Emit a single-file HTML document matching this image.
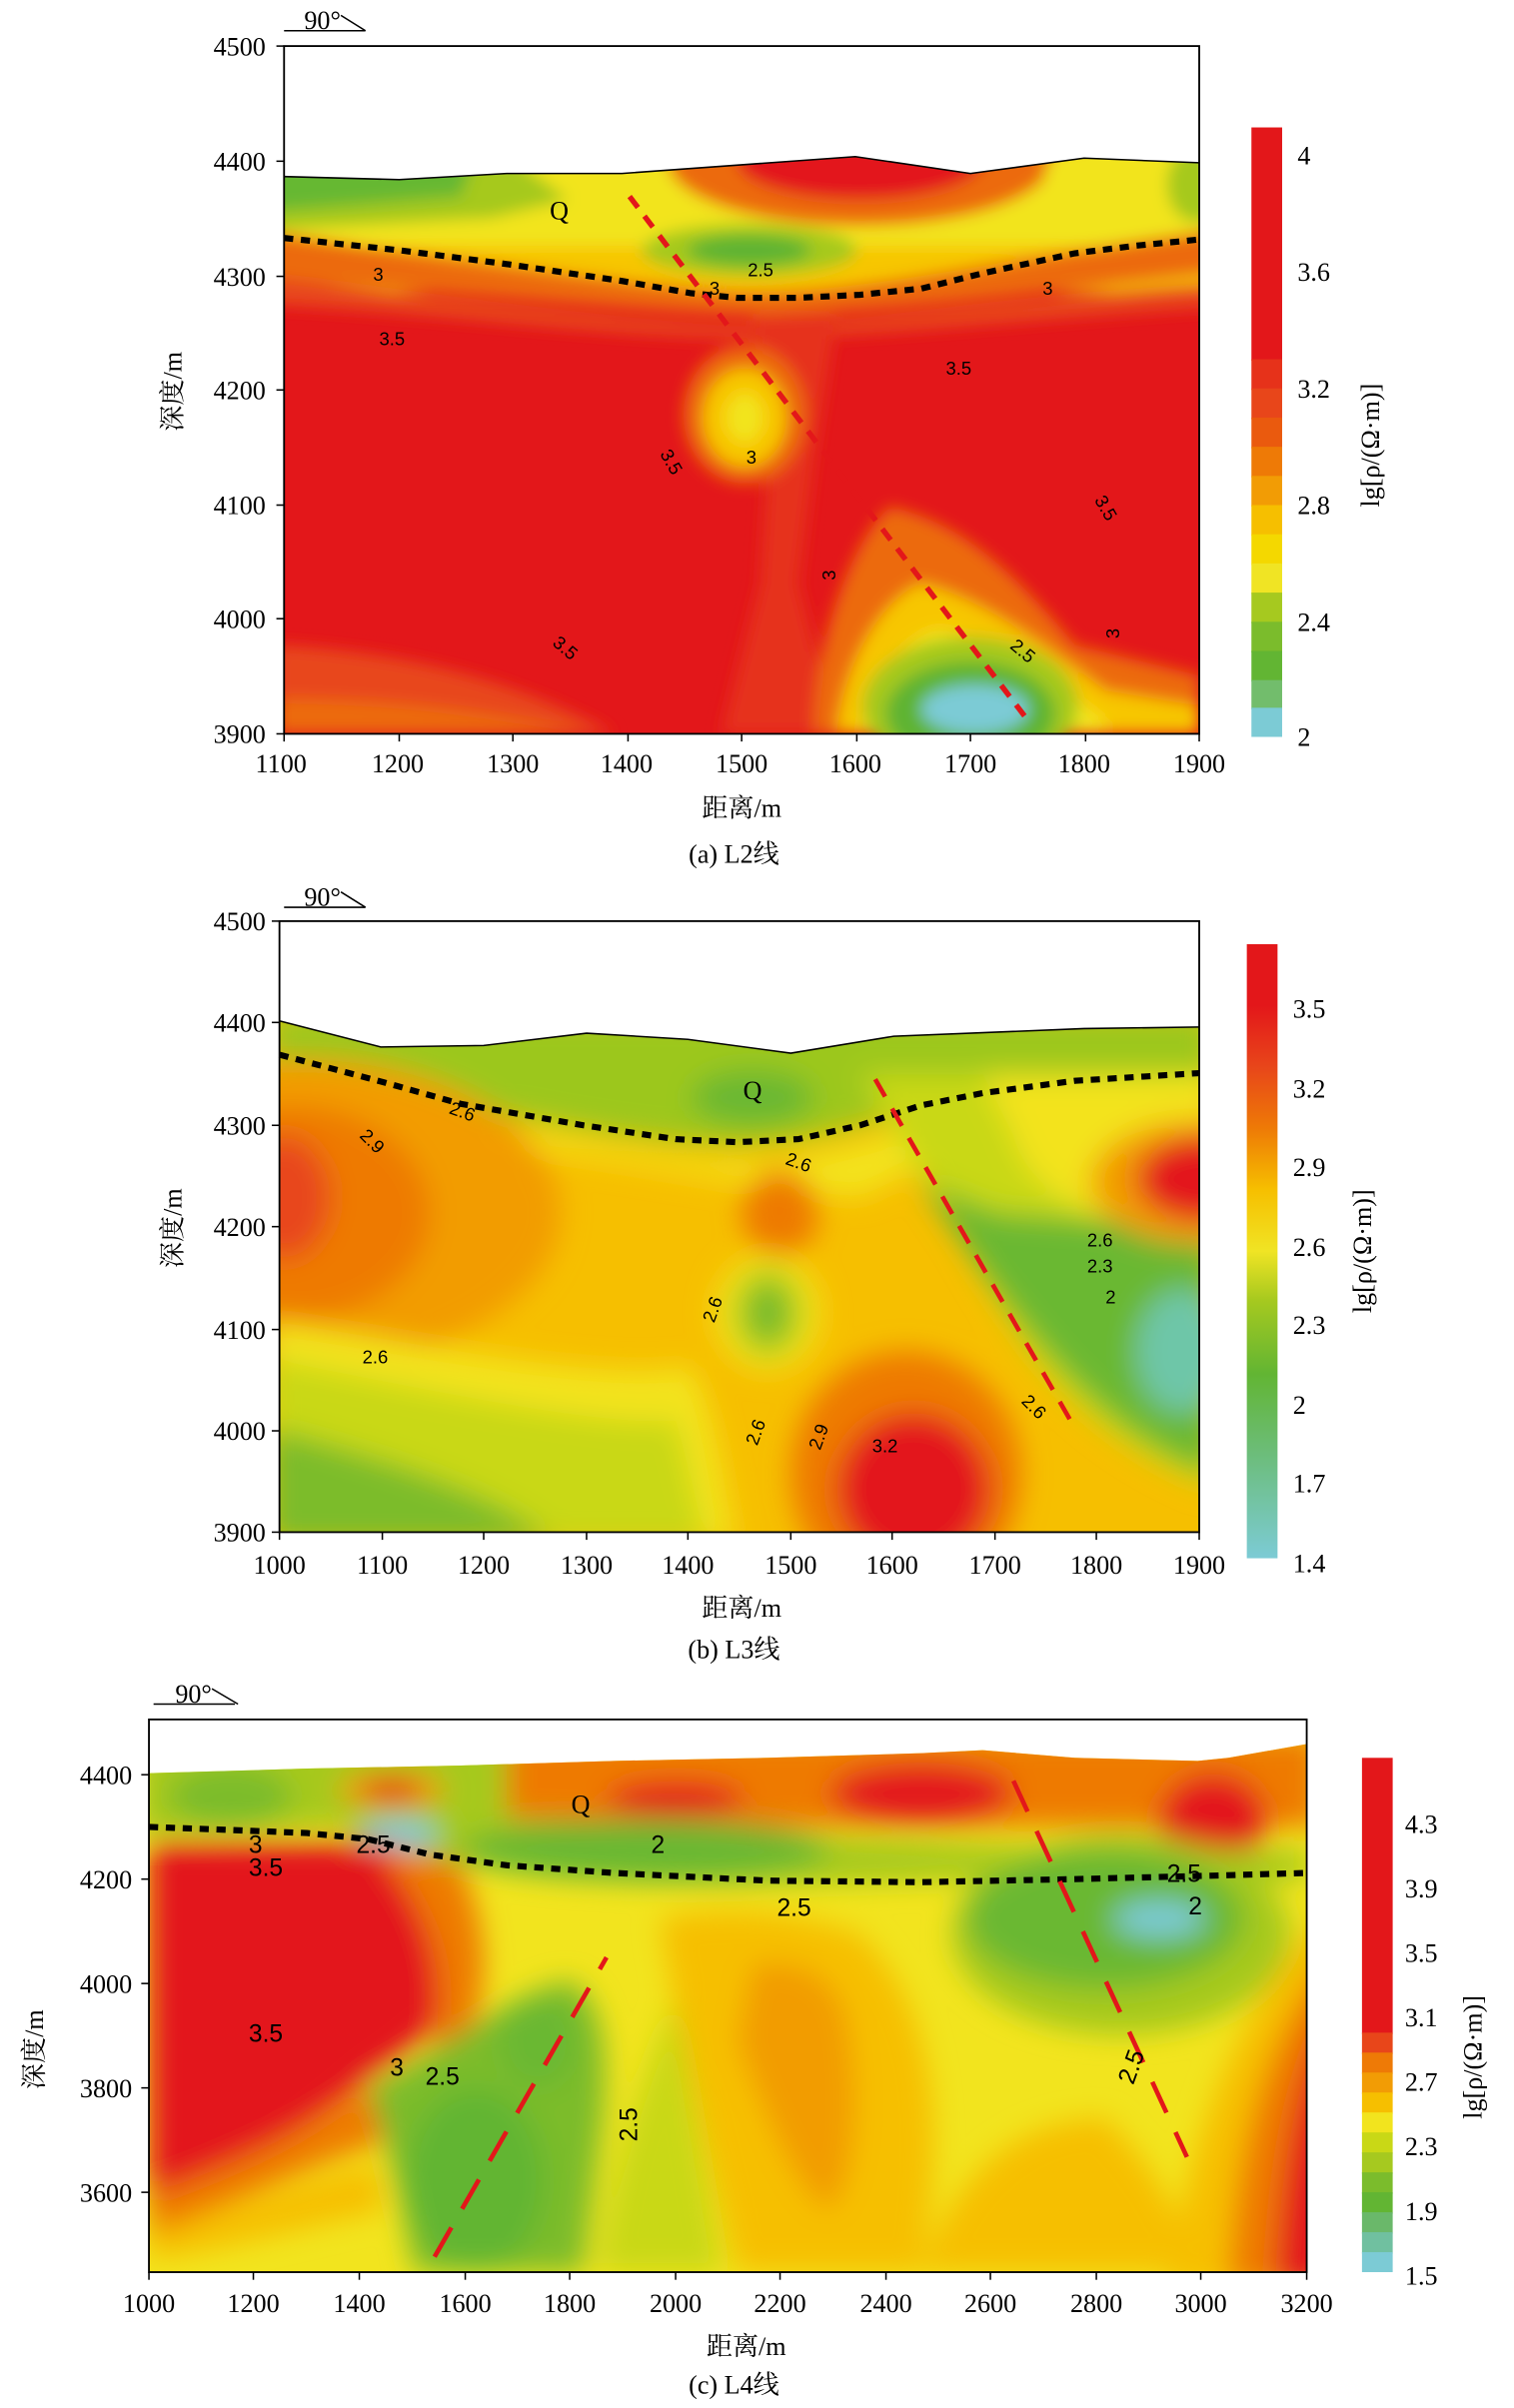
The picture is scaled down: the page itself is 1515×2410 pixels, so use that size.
<!DOCTYPE html>
<html><head><meta charset="utf-8"><style>
html,body{margin:0;padding:0;background:#fff;}
svg{display:block}
.t{font-family:"Liberation Serif","Noto Serif CJK SC",serif;font-size:17px;fill:#000}
.c{font-family:"Liberation Sans",sans-serif;font-size:12px;fill:#000}
</style></head><body>
<svg width="1515" height="2410" viewBox="0 0 986 1568.5" preserveAspectRatio="none" xmlns="http://www.w3.org/2000/svg">
<defs>
<filter id="b" x="-20%" y="-20%" width="140%" height="140%"><feGaussianBlur stdDeviation="5"/></filter>
<filter id="b2" x="-20%" y="-20%" width="140%" height="140%"><feGaussianBlur stdDeviation="9"/></filter>
<clipPath id="ca"><polygon points="185,115 260,117 330,113 405,113 557,102 632,113 706,103 781,106 781,478 185,478"/></clipPath>
<clipPath id="cb"><polygon points="182,665 248,682 315,681 382,673 448,677 515,686 582,675 706,670 781,669 781,998 182,998"/></clipPath>
<clipPath id="cc"><polygon points="97,1155 200,1152 300,1150 400,1147 500,1145 600,1142 640,1140 700,1145 780,1147 800,1145 851,1136 851,1480 97,1480"/></clipPath>
</defs>

<!-- ===== Chart a ===== -->
<g clip-path="url(#ca)">
<rect x="180" y="95" width="610" height="390" fill="#e3171a"/>
<g filter="url(#b)">
<rect x="170" y="95" width="620" height="95" fill="#f7c600"/>
<rect x="170" y="100" width="620" height="60" fill="#f2e41e"/>
<path d="M170,100 L330,100 L370,130 L320,142 L170,150Z" fill="#a6c91f"/>
<path d="M170,100 L310,100 L300,128 L170,138Z" fill="#66b833"/>
<ellipse cx="560" cy="105" rx="125" ry="42" fill="#ec6a08"/>
<ellipse cx="560" cy="105" rx="80" ry="25" fill="#e3171a"/>
<ellipse cx="730" cy="115" rx="50" ry="25" fill="#f2e41e"/>
<ellipse cx="780" cy="120" rx="20" ry="25" fill="#a6c91f"/>
<ellipse cx="488" cy="163" rx="70" ry="17" fill="#a6c91f"/>
<ellipse cx="488" cy="163" rx="40" ry="10" fill="#5fb433"/>
<path d="M170,150 C300,170 420,185 480,190 C560,192 640,170 790,150 L790,178 C640,195 560,205 480,205 C380,200 300,190 170,182Z" fill="#ec6a08"/>
<path d="M170,180 C300,195 420,210 480,212 C560,212 640,195 790,185 L790,200 C640,210 560,220 480,220 C380,218 300,205 170,198Z" fill="#e8461a"/>
<path d="M490,205 L545,205 L530,300 L520,380 L545,478 L470,478 L495,380 L500,300Z" fill="#e6321a"/>
<ellipse cx="485" cy="270" rx="40" ry="45" fill="#ec6a08"/>
<ellipse cx="485" cy="272" rx="27" ry="32" fill="#f7c600"/>
<ellipse cx="485" cy="272" rx="12" ry="16" fill="#f2e41e"/>
<path d="M530,478 C530,420 555,350 580,330 C620,340 650,360 700,420 L781,440 L781,478Z" fill="#ec6a08"/>
<path d="M545,478 C550,430 575,390 600,380 C640,390 680,420 720,450 L781,460 L781,478Z" fill="#f7c600"/>
<path d="M560,478 C565,445 590,415 610,410 C650,415 680,440 720,470 L720,478Z" fill="#f2e41e"/>
<ellipse cx="632" cy="460" rx="70" ry="45" fill="#a6c91f"/>
<ellipse cx="632" cy="465" rx="55" ry="34" fill="#5fb433"/>
<ellipse cx="635" cy="462" rx="35" ry="16" fill="#7ccbd5"/>
<path d="M180,420 C260,425 330,440 400,478 L180,478Z" fill="#e8461a"/>
<path d="M180,455 C260,455 330,465 380,478 L180,478Z" fill="#ec6a08"/>
</g>
</g>
<polyline points="185,115 260,117 330,113 405,113 557,102 632,113 706,103 781,106" fill="none" stroke="#000" stroke-width="1"/>
<rect x="185" y="30" width="596" height="448" fill="none" stroke="#000" stroke-width="1.2"/>
<polyline points="185,155 260,163 330,172 405,183 450,191 480,194 520,194 560,192 600,188 640,178 700,165 740,160 781,156" fill="none" stroke="#000" stroke-width="4" stroke-dasharray="6,5"/>
<line x1="410" y1="128" x2="670" y2="470" stroke="#e3171a" stroke-width="3.5" stroke-dasharray="9,7"/>
<g class="c">
<text x="243" y="183">3</text><text x="247" y="225">3.5</text><text x="487" y="180">2.5</text><text x="462" y="192">3</text>
<text x="679" y="192">3</text><text x="616" y="244">3.5</text><text x="486" y="302">3</text>
<text x="427" y="300" transform="rotate(60 432 300)">3.5</text><text x="710" y="330" transform="rotate(60 715 330)">3.5</text>
<text x="536" y="378" transform="rotate(-90 540 374)">3</text><text x="720" y="415" transform="rotate(-90 725 411)">3</text>
<text x="358" y="423" transform="rotate(40 363 423)">3.5</text><text x="656" y="425" transform="rotate(40 661 425)">2.5</text>
</g>
<text x="358" y="143" class="t">Q</text>
<g stroke="#000" stroke-width="1">
<line x1="180" y1="30" x2="185" y2="30"/><line x1="180" y1="105" x2="185" y2="105"/><line x1="180" y1="180" x2="185" y2="180"/><line x1="180" y1="254" x2="185" y2="254"/><line x1="180" y1="329" x2="185" y2="329"/><line x1="180" y1="403" x2="185" y2="403"/><line x1="180" y1="478" x2="185" y2="478"/>
<line x1="185" y1="478" x2="185" y2="483"/><line x1="260" y1="478" x2="260" y2="483"/><line x1="334" y1="478" x2="334" y2="483"/><line x1="409" y1="478" x2="409" y2="483"/><line x1="483" y1="478" x2="483" y2="483"/><line x1="558" y1="478" x2="558" y2="483"/><line x1="632" y1="478" x2="632" y2="483"/><line x1="707" y1="478" x2="707" y2="483"/><line x1="781" y1="478" x2="781" y2="483"/>
<line x1="185" y1="20" x2="238" y2="20"/><line x1="222" y1="10" x2="238" y2="20"/>
</g>
<g class="t" text-anchor="end">
<text x="173" y="36">4500</text><text x="173" y="111">4400</text><text x="173" y="186">4300</text><text x="173" y="260">4200</text><text x="173" y="335">4100</text><text x="173" y="409">4000</text><text x="173" y="484">3900</text>
</g>
<g class="t" text-anchor="middle">
<text x="183" y="503">1100</text><text x="259" y="503">1200</text><text x="334" y="503">1300</text><text x="408" y="503">1400</text><text x="483" y="503">1500</text><text x="557" y="503">1600</text><text x="632" y="503">1700</text><text x="706" y="503">1800</text><text x="781" y="503">1900</text>
<text x="483" y="532">距离/m</text><text x="478" y="562">(a) L2线</text>
<text x="210" y="19">90°</text>
</g>
<text class="t" text-anchor="middle" transform="translate(118,255) rotate(-90)">深度/m</text>
<g>
<rect x="815" y="83" width="20" height="152" fill="#e3171a"/>
<rect x="815" y="234" width="20" height="20" fill="#e6321a"/>
<rect x="815" y="253" width="20" height="20" fill="#e8461a"/>
<rect x="815" y="272" width="20" height="20" fill="#ea5a0e"/>
<rect x="815" y="291" width="20" height="20" fill="#ee7a06"/>
<rect x="815" y="310" width="20" height="20" fill="#f29c05"/>
<rect x="815" y="329" width="20" height="20" fill="#f6bf00"/>
<rect x="815" y="348" width="20" height="20" fill="#f4d800"/>
<rect x="815" y="367" width="20" height="20" fill="#f0e424"/>
<rect x="815" y="386" width="20" height="20" fill="#a6c91f"/>
<rect x="815" y="405" width="20" height="20" fill="#7bbc2c"/>
<rect x="815" y="424" width="20" height="20" fill="#62b533"/>
<rect x="815" y="443" width="20" height="19" fill="#72bd6c"/>
<rect x="815" y="461" width="20" height="19" fill="#7ccbd5"/>
</g>
<g class="t"><text x="845" y="107">4</text><text x="845" y="183">3.6</text><text x="845" y="259">3.2</text><text x="845" y="335">2.8</text><text x="845" y="411">2.4</text><text x="845" y="486">2</text></g>
<text class="t" text-anchor="middle" transform="translate(898,290) rotate(-90)">lg[ρ/(Ω·m)]</text>

<!-- ===== Chart b ===== -->
<g clip-path="url(#cb)">
<rect x="175" y="660" width="615" height="345" fill="#f6bf00"/>
<g filter="url(#b2)">
<path d="M175,660 L790,660 L790,700 C700,700 640,705 600,720 C560,735 520,745 480,745 C420,745 330,730 175,690Z" fill="#9cc71e"/>
<ellipse cx="490" cy="715" rx="40" ry="18" fill="#6ab830"/>
<path d="M175,690 C330,735 420,755 480,757 C530,757 580,740 620,725 C700,705 790,710 790,710 L790,735 C700,730 640,745 600,760 L560,780 L480,770 L175,720Z" fill="#f3e31a"/>
<ellipse cx="195" cy="790" rx="170" ry="100" fill="#f29c05"/>
<ellipse cx="190" cy="790" rx="90" ry="70" fill="#ee7a06"/>
<ellipse cx="185" cy="780" rx="30" ry="40" fill="#e8461a"/>
<path d="M175,860 C300,880 400,900 450,890 C470,930 470,970 480,1005 L175,1005Z" fill="#f3e31a"/>
<path d="M175,885 C300,910 400,930 440,925 C450,960 455,990 460,1005 L175,1005Z" fill="#c9d816"/>
<path d="M175,930 C250,950 330,975 360,1005 L175,1005Z" fill="#7bbc2c"/>
<ellipse cx="508" cy="790" rx="25" ry="28" fill="#ee7a06"/>
<ellipse cx="500" cy="855" rx="35" ry="38" fill="#f3e31a"/>
<ellipse cx="500" cy="855" rx="22" ry="28" fill="#a6c91f"/>
<ellipse cx="500" cy="855" rx="10" ry="15" fill="#6ab830"/>
<ellipse cx="590" cy="960" rx="75" ry="80" fill="#ee7a06"/>
<ellipse cx="595" cy="970" rx="50" ry="50" fill="#e3171a"/>
<path d="M560,700 C600,760 630,820 670,880 C700,920 740,950 790,970 L790,700 C720,700 640,700 560,700Z" fill="#c9d816"/>
<path d="M600,770 C640,830 670,870 700,900 C730,930 760,950 790,960 L790,800 L650,790Z" fill="#6ab830"/>
<ellipse cx="770" cy="880" rx="30" ry="40" fill="#6ec6a8"/>
<path d="M640,700 L790,700 L790,810 C720,800 670,780 660,740Z" fill="#f3e31a"/>
<ellipse cx="780" cy="770" rx="70" ry="40" fill="#f29c05"/>
<ellipse cx="785" cy="768" rx="45" ry="28" fill="#e3171a"/>
</g>
</g>
<polyline points="182,665 248,682 315,681 382,673 448,677 515,686 582,675 706,670 781,669" fill="none" stroke="#000" stroke-width="1"/>
<rect x="182" y="600" width="599" height="398" fill="none" stroke="#000" stroke-width="1.2"/>
<polyline points="182,687 250,705 300,719 380,733 440,742 480,744 520,742 560,733 600,720 640,712 700,704 781,699" fill="none" stroke="#000" stroke-width="4" stroke-dasharray="6,5"/>
<line x1="570" y1="703" x2="697" y2="925" stroke="#e3171a" stroke-width="3" stroke-dasharray="13,9"/>
<g class="c">
<text x="293" y="727" transform="rotate(20 298 723)">2.6</text><text x="235" y="745" transform="rotate(45 240 741)">2.9</text>
<text x="512" y="760" transform="rotate(20 517 756)">2.6</text><text x="236" y="888">2.6</text>
<text x="458" y="860" transform="rotate(-70 463 856)">2.6</text>
<text x="486" y="940" transform="rotate(-70 491 936)">2.6</text><text x="527" y="943" transform="rotate(-70 532 939)">2.9</text>
<text x="568" y="946">3.2</text><text x="666" y="918" transform="rotate(45 671 914)">2.6</text>
<text x="708" y="812">2.6</text><text x="708" y="829">2.3</text><text x="720" y="849">2</text>
</g>
<text x="484" y="716" class="t">Q</text>
<g stroke="#000" stroke-width="1">
<line x1="177" y1="600" x2="182" y2="600"/><line x1="177" y1="666" x2="182" y2="666"/><line x1="177" y1="733" x2="182" y2="733"/><line x1="177" y1="799" x2="182" y2="799"/><line x1="177" y1="866" x2="182" y2="866"/><line x1="177" y1="932" x2="182" y2="932"/><line x1="177" y1="998" x2="182" y2="998"/>
<line x1="182" y1="998" x2="182" y2="1003"/><line x1="249" y1="998" x2="249" y2="1003"/><line x1="315" y1="998" x2="315" y2="1003"/><line x1="382" y1="998" x2="382" y2="1003"/><line x1="448" y1="998" x2="448" y2="1003"/><line x1="515" y1="998" x2="515" y2="1003"/><line x1="581" y1="998" x2="581" y2="1003"/><line x1="648" y1="998" x2="648" y2="1003"/><line x1="714" y1="998" x2="714" y2="1003"/><line x1="781" y1="998" x2="781" y2="1003"/>
<line x1="185" y1="591" x2="238" y2="591"/><line x1="222" y1="581" x2="238" y2="591"/>
</g>
<g class="t" text-anchor="end">
<text x="173" y="606">4500</text><text x="173" y="672">4400</text><text x="173" y="739">4300</text><text x="173" y="805">4200</text><text x="173" y="872">4100</text><text x="173" y="938">4000</text><text x="173" y="1004">3900</text>
</g>
<g class="t" text-anchor="middle">
<text x="182" y="1025">1000</text><text x="249" y="1025">1100</text><text x="315" y="1025">1200</text><text x="382" y="1025">1300</text><text x="448" y="1025">1400</text><text x="515" y="1025">1500</text><text x="581" y="1025">1600</text><text x="648" y="1025">1700</text><text x="714" y="1025">1800</text><text x="781" y="1025">1900</text>
<text x="483" y="1053">距离/m</text><text x="478" y="1080">(b) L3线</text>
<text x="210" y="590">90°</text>
</g>
<text class="t" text-anchor="middle" transform="translate(118,800) rotate(-90)">深度/m</text>
<defs><linearGradient id="gb" x1="0" y1="1" x2="0" y2="0">
<stop offset="0" stop-color="#7ccbd5"/><stop offset="0.17" stop-color="#6cbd7a"/><stop offset="0.3" stop-color="#62b533"/><stop offset="0.42" stop-color="#a6c91f"/><stop offset="0.5" stop-color="#f0e424"/><stop offset="0.6" stop-color="#f6bf00"/><stop offset="0.7" stop-color="#ee7a06"/><stop offset="0.8" stop-color="#e8461a"/><stop offset="0.9" stop-color="#e3171a"/><stop offset="1" stop-color="#e3171a"/></linearGradient></defs>
<rect x="812" y="615" width="20" height="400" fill="url(#gb)"/>
<g class="t"><text x="842" y="663">3.5</text><text x="842" y="715">3.2</text><text x="842" y="766">2.9</text><text x="842" y="818">2.6</text><text x="842" y="869">2.3</text><text x="842" y="921">2</text><text x="842" y="972">1.7</text><text x="842" y="1024">1.4</text></g>
<text class="t" text-anchor="middle" transform="translate(893,815) rotate(-90)">lg[ρ/(Ω·m)]</text>

<!-- ===== Chart c ===== -->
<g clip-path="url(#cc)">
<rect x="90" y="1130" width="770" height="360" fill="#f2e41e"/>
<g filter="url(#b2)">
<rect x="90" y="1130" width="770" height="60" fill="#ee7a06"/>
<path d="M90,1130 L330,1130 L330,1185 L90,1195Z" fill="#a6c91f"/>
<ellipse cx="150" cy="1170" rx="40" ry="20" fill="#7bbc2c"/>
<ellipse cx="255" cy="1166" rx="35" ry="12" fill="#f29c05"/>
<ellipse cx="255" cy="1166" rx="20" ry="7" fill="#e3171a"/>
<ellipse cx="440" cy="1172" rx="45" ry="12" fill="#e3171a"/>
<ellipse cx="600" cy="1168" rx="60" ry="20" fill="#e3171a"/>
<ellipse cx="790" cy="1185" rx="35" ry="30" fill="#e3171a"/>
<path d="M230,1190 C300,1180 400,1185 500,1195 C600,1200 700,1205 851,1205 L851,1225 C700,1222 600,1225 500,1228 C400,1230 300,1215 230,1205Z" fill="#a6c91f"/>
<ellipse cx="420" cy="1205" rx="120" ry="20" fill="#6ab830"/>
<ellipse cx="260" cy="1195" rx="25" ry="10" fill="#7ccbd5"/>
<path d="M97,1200 L250,1200 C280,1240 300,1280 300,1300 C280,1330 260,1340 240,1355 C210,1380 180,1400 97,1430Z" fill="#e3171a"/>
<path d="M97,1430 C180,1400 210,1380 240,1360 L250,1395 C200,1410 150,1440 97,1455Z" fill="#ee7a06"/>
<path d="M97,1455 C150,1440 200,1420 245,1410 L250,1440 C200,1450 150,1465 97,1472Z" fill="#f6bf00"/>
<path d="M250,1200 L300,1215 C320,1260 320,1300 300,1340 L280,1345 C290,1300 290,1260 250,1210Z" fill="#ee7a06"/>
<path d="M240,1360 C280,1340 330,1300 370,1290 C390,1300 400,1330 390,1400 L380,1480 L270,1480 C260,1430 250,1390 240,1360Z" fill="#7bbc2c"/>
<ellipse cx="310" cy="1420" rx="45" ry="60" fill="#62b533"/>
<ellipse cx="350" cy="1330" rx="25" ry="30" fill="#6ab830"/>
<path d="M390,1480 C400,1400 420,1350 440,1300 L470,1480Z" fill="#c9d816"/>
<path d="M430,1250 C470,1240 520,1245 560,1260 C600,1300 620,1360 600,1480 L480,1480 C460,1400 440,1320 430,1250Z" fill="#f6bf00"/>
<path d="M490,1280 C520,1275 540,1285 550,1310 C560,1350 560,1420 540,1440 C520,1430 500,1380 480,1330Z" fill="#f29c05"/>
<ellipse cx="730" cy="1260" rx="110" ry="65" fill="#a6c91f"/>
<ellipse cx="720" cy="1250" rx="90" ry="45" fill="#6ab830"/>
<ellipse cx="755" cy="1250" rx="30" ry="12" fill="#7ccbd5"/>
<path d="M870,1240 C820,1290 780,1360 760,1490 L870,1490Z" fill="#f6bf00"/>
<path d="M870,1270 C830,1320 805,1380 800,1490 L870,1490Z" fill="#ee7a06"/>
<path d="M870,1300 C845,1350 835,1400 830,1490 L870,1490Z" fill="#e3171a"/>
<path d="M600,1480 C620,1420 660,1380 720,1380 C760,1420 770,1450 780,1480Z" fill="#f6bf00"/>
</g>
</g>
<rect x="97" y="1120" width="754" height="360" fill="none" stroke="#000" stroke-width="1.2"/>
<polyline points="97,1190 150,1192 200,1194 240,1198 280,1208 330,1215 400,1220 500,1225 600,1226 700,1224 780,1222 851,1220" fill="none" stroke="#000" stroke-width="4" stroke-dasharray="6,5"/>
<line x1="283" y1="1470" x2="395" y2="1275" stroke="#e3171a" stroke-width="3" stroke-dasharray="22,14"/>
<line x1="660" y1="1160" x2="773" y2="1405" stroke="#e3171a" stroke-width="3" stroke-dasharray="22,14"/>
<g class="c" style="font-size:16px">
<text x="162" y="1207">3</text><text x="162" y="1222">3.5</text><text x="232" y="1207">2.5</text><text x="424" y="1207">2</text>
<text x="506" y="1248">2.5</text><text x="760" y="1226">2.5</text><text x="774" y="1247">2</text>
<text x="162" y="1330">3.5</text><text x="254" y="1352">3</text><text x="277" y="1358">2.5</text>
<text x="405" y="1395" transform="rotate(-90 410 1390)">2.5</text>
<text x="730" y="1357" transform="rotate(-70 735 1352)">2.5</text>
</g>
<text x="372" y="1181" class="t">Q</text>
<g stroke="#000" stroke-width="1">
<line x1="92" y1="1156" x2="97" y2="1156"/><line x1="92" y1="1224" x2="97" y2="1224"/><line x1="92" y1="1292" x2="97" y2="1292"/><line x1="92" y1="1360" x2="97" y2="1360"/><line x1="92" y1="1428" x2="97" y2="1428"/>
<line x1="97" y1="1480" x2="97" y2="1485"/><line x1="165" y1="1480" x2="165" y2="1485"/><line x1="234" y1="1480" x2="234" y2="1485"/><line x1="303" y1="1480" x2="303" y2="1485"/><line x1="371" y1="1480" x2="371" y2="1485"/><line x1="440" y1="1480" x2="440" y2="1485"/><line x1="508" y1="1480" x2="508" y2="1485"/><line x1="577" y1="1480" x2="577" y2="1485"/><line x1="645" y1="1480" x2="645" y2="1485"/><line x1="714" y1="1480" x2="714" y2="1485"/><line x1="782" y1="1480" x2="782" y2="1485"/><line x1="851" y1="1480" x2="851" y2="1485"/>
<line x1="100" y1="1110" x2="153" y2="1110"/><line x1="138" y1="1100" x2="155" y2="1110"/>
</g>
<g class="t" text-anchor="end">
<text x="86" y="1162">4400</text><text x="86" y="1230">4200</text><text x="86" y="1298">4000</text><text x="86" y="1366">3800</text><text x="86" y="1434">3600</text>
</g>
<g class="t" text-anchor="middle">
<text x="97" y="1506">1000</text><text x="165" y="1506">1200</text><text x="234" y="1506">1400</text><text x="303" y="1506">1600</text><text x="371" y="1506">1800</text><text x="440" y="1506">2000</text><text x="508" y="1506">2200</text><text x="577" y="1506">2400</text><text x="645" y="1506">2600</text><text x="714" y="1506">2800</text><text x="782" y="1506">3000</text><text x="851" y="1506">3200</text>
<text x="486" y="1534">距离/m</text><text x="478" y="1559">(c) L4线</text>
<text x="126" y="1109">90°</text>
</g>
<text class="t" text-anchor="middle" transform="translate(28,1335) rotate(-90)">深度/m</text>
<g>
<rect x="887" y="1145" width="20" height="180" fill="#e3171a"/>
<rect x="887" y="1324" width="20" height="14" fill="#e8461a"/>
<rect x="887" y="1337" width="20" height="14" fill="#ee7a06"/>
<rect x="887" y="1350" width="20" height="14" fill="#f29c05"/>
<rect x="887" y="1363" width="20" height="14" fill="#f6bf00"/>
<rect x="887" y="1376" width="20" height="14" fill="#f2e41e"/>
<rect x="887" y="1389" width="20" height="14" fill="#c9d816"/>
<rect x="887" y="1402" width="20" height="14" fill="#a6c91f"/>
<rect x="887" y="1415" width="20" height="14" fill="#7bbc2c"/>
<rect x="887" y="1428" width="20" height="14" fill="#62b533"/>
<rect x="887" y="1441" width="20" height="14" fill="#6ab86a"/>
<rect x="887" y="1454" width="20" height="14" fill="#70c0a0"/>
<rect x="887" y="1467" width="20" height="13" fill="#7ccbd5"/>
</g>
<g class="t"><text x="915" y="1194">4.3</text><text x="915" y="1236">3.9</text><text x="915" y="1278">3.5</text><text x="915" y="1320">3.1</text><text x="915" y="1362">2.7</text><text x="915" y="1404">2.3</text><text x="915" y="1446">1.9</text><text x="915" y="1488">1.5</text></g>
<text class="t" text-anchor="middle" transform="translate(965,1340) rotate(-90)">lg[ρ/(Ω·m)]</text>
</svg>
</body></html>
